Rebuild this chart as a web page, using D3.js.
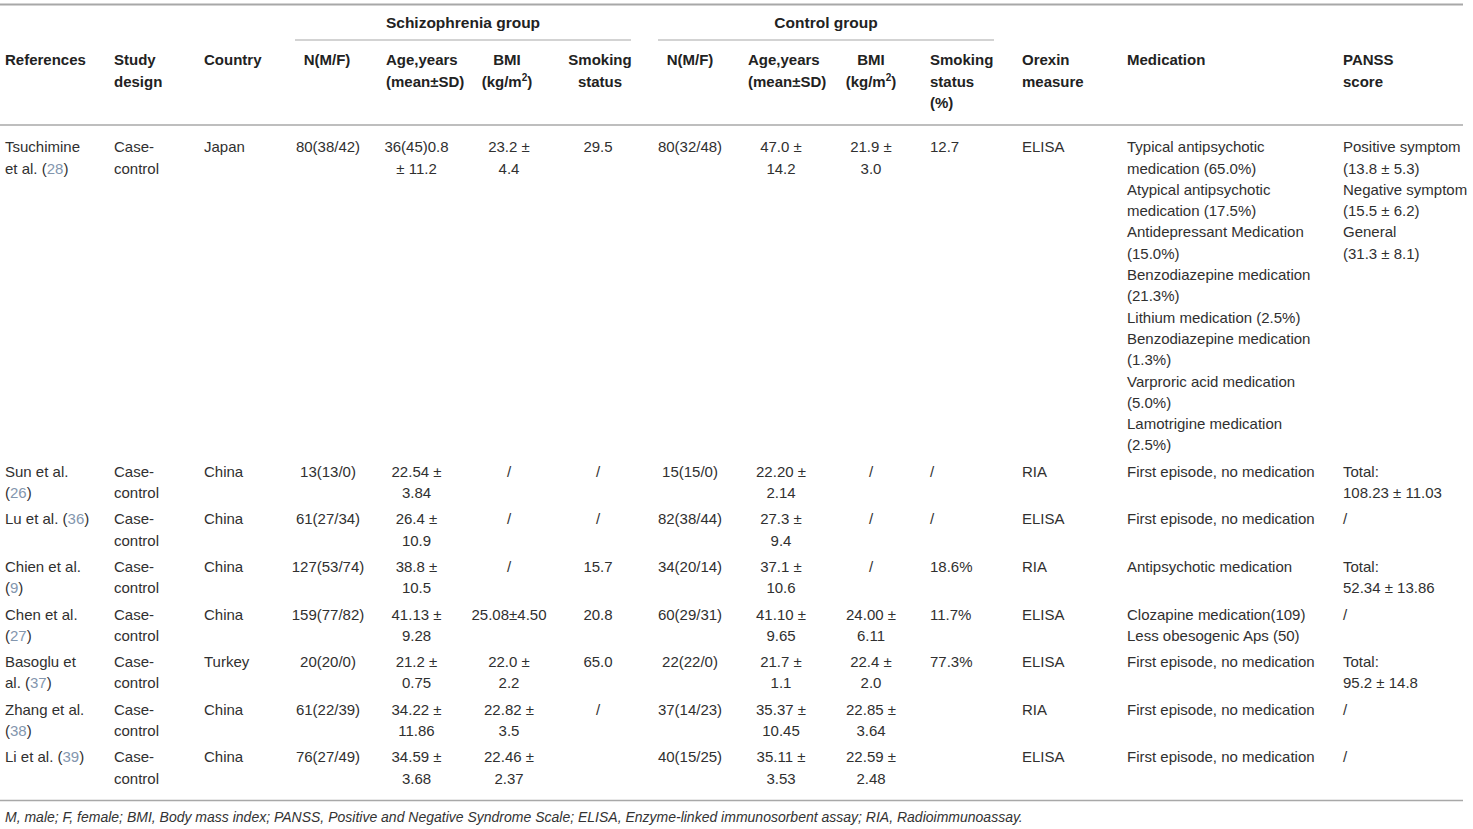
<!DOCTYPE html>
<html>
<head>
<meta charset="utf-8">
<script src="https://cdn.jsdelivr.net/npm/d3@7"></script>
<style>
  body { margin: 0; background: #fff; }
  svg text { font-family: "Liberation Sans", Arial, Helvetica, sans-serif; }
</style>
</head>
<body>
<svg id="table"></svg>
<script>
// table content, one array per column
const references = ["Tsuchimine\net al. (28)", "Sun et al.\n(26)", "Lu et al. (36)", "Chien et al.\n(9)",
    "Chen et al.\n(27)", "Basoglu et\nal. (37)", "Zhang et al.\n(38)", "Li et al. (39)"];
const studyDesign = ["Case-\ncontrol", "Case-\ncontrol", "Case-\ncontrol", "Case-\ncontrol",
    "Case-\ncontrol", "Case-\ncontrol", "Case-\ncontrol", "Case-\ncontrol"];
const country = ["Japan", "China", "China", "China", "China", "Turkey", "China", "China"];
const schizoN = ["80(38/42)", "13(13/0)", "61(27/34)", "127(53/74)", "159(77/82)", "20(20/0)", "61(22/39)", "76(27/49)"];
const schizoAge = ["36(45)0.8\n± 11.2", "22.54 ±\n3.84", "26.4 ±\n10.9", "38.8 ±\n10.5", "41.13 ±\n9.28",
    "21.2 ±\n0.75", "34.22 ±\n11.86", "34.59 ±\n3.68"];
const schizoBMI = ["23.2 ±\n4.4", "/", "/", "/", "25.08±4.50", "22.0 ±\n2.2", "22.82 ±\n3.5", "22.46 ±\n2.37"];
const schizoSmoking = ["29.5", "/", "/", "15.7", "20.8", "65.0", "/", ""];
const controlN = ["80(32/48)", "15(15/0)", "82(38/44)", "34(20/14)", "60(29/31)", "22(22/0)", "37(14/23)", "40(15/25)"];
const controlAge = ["47.0 ±\n14.2", "22.20 ±\n2.14", "27.3 ±\n9.4", "37.1 ±\n10.6", "41.10 ±\n9.65",
    "21.7 ±\n1.1", "35.37 ±\n10.45", "35.11 ±\n3.53"];
const controlBMI = ["21.9 ±\n3.0", "/", "/", "/", "24.00 ±\n6.11", "22.4 ±\n2.0", "22.85 ±\n3.64", "22.59 ±\n2.48"];
const controlSmoking = ["12.7", "/", "/", "18.6%", "11.7%", "77.3%", "", ""];
const orexinMeasure = ["ELISA", "RIA", "ELISA", "RIA", "ELISA", "ELISA", "RIA", "ELISA"];
const medication = [
    "Typical antipsychotic\nmedication (65.0%)\nAtypical antipsychotic\nmedication (17.5%)\nAntidepressant Medication\n(15.0%)\nBenzodiazepine medication\n(21.3%)\nLithium medication (2.5%)\nBenzodiazepine medication\n(1.3%)\nVarproric acid medication\n(5.0%)\nLamotrigine medication\n(2.5%)",
    "First episode, no medication", "First episode, no medication", "Antipsychotic medication",
    "Clozapine medication(109)\nLess obesogenic Aps (50)", "First episode, no medication",
    "First episode, no medication", "First episode, no medication"];
const panssScore = ["Positive symptom\n(13.8 ± 5.3)\nNegative symptom\n(15.5 ± 6.2)\nGeneral\n(31.3 ± 8.1)",
    "Total:\n108.23 ± 11.03", "/", "Total:\n52.34 ± 13.86", "/", "Total:\n95.2 ± 14.8", "/", "/"];

const groupLabels = ["Schizophrenia group", "Control group"];
const headerLabels = [["References"], ["Study", "design"], ["Country"], ["N(M/F)"], ["Age,years", "(mean±SD)"],
    ["BMI", "(kg/m^2)"], ["Smoking", "status"], ["N(M/F)"], ["Age,years", "(mean±SD)"], ["BMI", "(kg/m^2)"],
    ["Smoking", "status", "(%)"], ["Orexin", "measure"], ["Medication"], ["PANSS", "score"]];
const footnote = "M, male; F, female; BMI, Body mass index; PANSS, Positive and Negative Syndrome Scale; ELISA, Enzyme-linked immunosorbent assay; RIA, Radioimmunoassay.";

const columnData = [references, studyDesign, country, schizoN, schizoAge, schizoBMI, schizoSmoking,
    controlN, controlAge, controlBMI, controlSmoking, orexinMeasure, medication, panssScore];

// layout
const width = 1473;
const height = 829;
const lineH = 21.3;
const rowGap = 26.3;
const textColor = "#303030";
const refColor = "#8396ae";
const ruleColor = "#a8a8a8";

const colKeys = d3.range(columnData.length);
const colX = d3.scaleOrdinal().domain(colKeys)
    .range([5, 114, 204, 328, 416.5, 509, 598, 690, 781, 871, 930, 1022, 1127, 1343]);
const colAnchor = d3.scaleOrdinal().domain(colKeys)
    .range(["start", "start", "start", "middle", "middle", "middle", "middle", "middle", "middle", "middle",
        "start", "start", "start", "start"]);
const headX = d3.scaleOrdinal().domain(colKeys)
    .range([5, 114, 204, 327, 386, 507, 600, 690, 748, 871, 930, 1022, 1127, 1343]);
const headAnchor = d3.scaleOrdinal().domain(colKeys)
    .range(["start", "start", "start", "middle", "start", "middle", "middle", "middle", "start", "middle",
        "start", "start", "start", "start"]);
const groupSpan = d3.scaleOrdinal().domain(groupLabels).range([[295, 631], [658, 994]]);

// each row is as tall as its longest cell
const rowLines = references.map((_, i) => d3.max(columnData, col => col[i] ? col[i].split("\n").length : 1));
const rowTop = [147];
rowLines.slice(0, -1).forEach((n, i) => rowTop.push(rowTop[i] + (n - 1) * lineH + rowGap));
const yLine = (row, k) => rowTop[row] + k * lineH;
const lastLineY = yLine(rowLines.length - 1, rowLines[rowLines.length - 1] - 1);

const svg = d3.select("#table")
    .attr("width", width)
    .attr("height", height)
    .style("background", "#fff");

// rules
const rules = [
    { x1: 0, x2: 1463, y: 4.5, w: 2 },
    { x1: 0, x2: 1463, y: 125, w: 1.5 },
    { x1: 0, x2: 1463, y: lastLineY + 22, w: 1.5 }
];
groupLabels.forEach(g => rules.push({ x1: groupSpan(g)[0], x2: groupSpan(g)[1], y: 40, w: 1.2 }));
svg.selectAll("line.rule")
    .data(rules)
    .enter()
    .append("line")
    .attr("class", "rule")
    .attr("x1", d => d.x1)
    .attr("x2", d => d.x2)
    .attr("y1", d => d.y)
    .attr("y2", d => d.y)
    .attr("stroke", ruleColor)
    .attr("stroke-width", d => d.w);

// group titles
svg.selectAll("text.group")
    .data(groupLabels)
    .enter()
    .append("text")
    .attr("class", "group")
    .attr("x", d => (groupSpan(d)[0] + groupSpan(d)[1]) / 2)
    .attr("y", 23)
    .attr("dy", "0.35em")
    .attr("text-anchor", "middle")
    .attr("font-size", 15.5)
    .attr("font-weight", "bold")
    .attr("fill", "#222")
    .text(d => d);

// column headers
const headG = svg.append("g");
headerLabels.forEach((lines, c) => {
    lines.forEach((line, k) => {
        const t = headG.append("text")
            .attr("x", headX(c))
            .attr("y", 60 + k * lineH)
            .attr("dy", "0.35em")
            .attr("text-anchor", headAnchor(c))
            .attr("font-size", 15)
            .attr("font-weight", "bold")
            .attr("fill", "#222");
        if (line.includes("^")) {
            const [pre, post] = line.split("^");
            t.append("tspan").text(pre);
            t.append("tspan").attr("font-size", 10).attr("dy", -6).text(post[0]);
            t.append("tspan").attr("dy", 6).text(post.slice(1));
        } else {
            t.text(line);
        }
    });
});

// body cells
const cells = [];
columnData.forEach((col, c) => {
    col.forEach((val, r) => {
        if (!val) return;
        val.split("\n").forEach((line, k) => cells.push({ c, r, k, line }));
    });
});

svg.selectAll("text.cell")
    .data(cells)
    .enter()
    .append("text")
    .attr("class", "cell")
    .attr("x", d => colX(d.c))
    .attr("y", d => yLine(d.r, d.k))
    .attr("dy", "0.35em")
    .attr("text-anchor", d => colAnchor(d.c))
    .attr("font-size", 15)
    .attr("fill", textColor)
    .each(function (d) {
        const t = d3.select(this);
        // citation numbers in the first column are links, drawn lighter
        const m = d.c === 0 ? d.line.match(/^(.*\()(\d+)(\))$/) : null;
        if (m) {
            t.append("tspan").text(m[1]);
            t.append("tspan").attr("fill", refColor).text(m[2]);
            t.append("tspan").text(m[3]);
        } else {
            t.text(d.line);
        }
    });

svg.append("text")
    .attr("x", 5)
    .attr("y", lastLineY + 39)
    .attr("dy", "0.35em")
    .attr("font-size", 14)
    .attr("font-style", "italic")
    .attr("fill", "#333")
    .text(footnote);
</script>
</body>
</html>
